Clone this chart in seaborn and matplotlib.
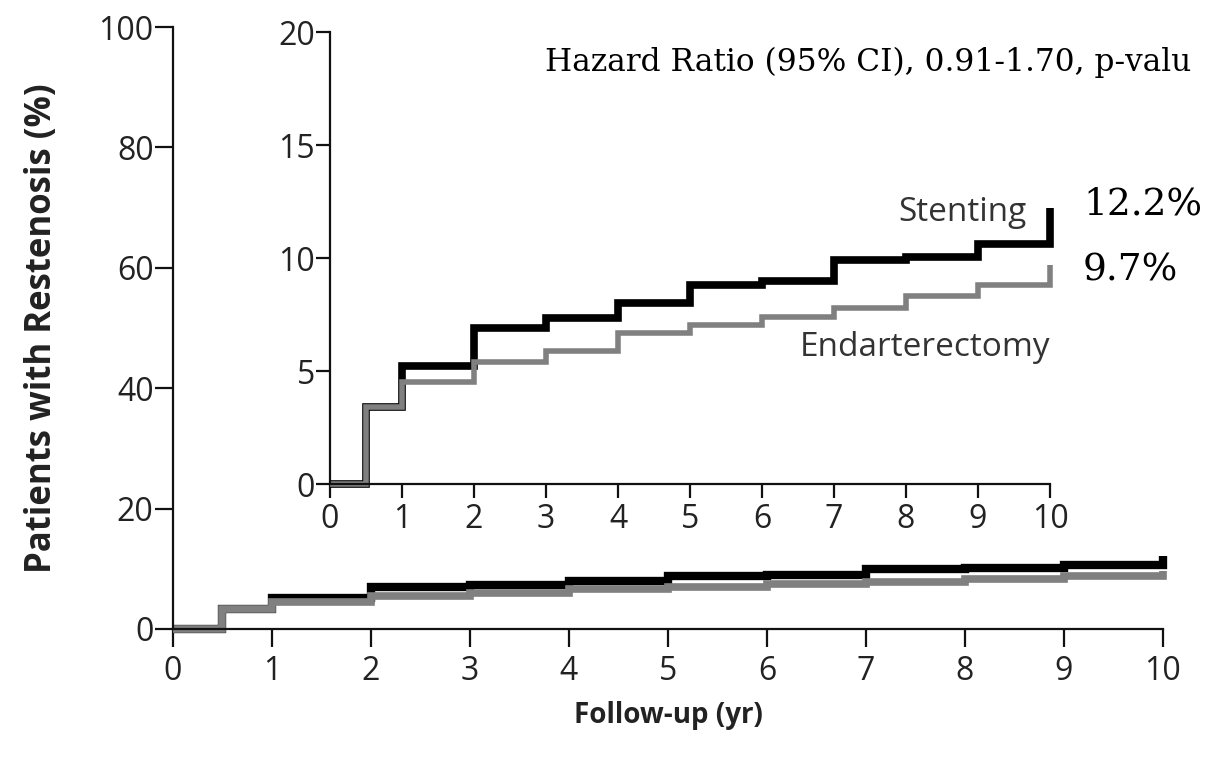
import matplotlib
matplotlib.use("Agg")
import matplotlib.pyplot as plt
import seaborn as sns
import pandas as pd

# ---- data ----
years = [0, 0.5, 1, 2, 3, 4, 5, 6, 7, 8, 9, 10]
stenting = [0, 3.4, 5.2, 6.9, 7.35, 8.0, 8.8, 9.0, 9.9, 10.05, 10.6, 12.2]
endarterectomy = [0, 3.4, 4.5, 5.4, 5.9, 6.7, 7.05, 7.4, 7.8, 8.3, 8.8, 9.7]
x_ticks = [0, 1, 2, 3, 4, 5, 6, 7, 8, 9, 10]
main_y_ticks = [0, 20, 40, 60, 80, 100]
inset_y_ticks = [0, 5, 10, 15, 20]
final_labels = ["12.2%", "9.7%"]
hr_text = "Hazard Ratio (95% CI), 0.91-1.70, p-valu"

df = pd.DataFrame({"year": years, "Stenting": stenting, "Endarterectomy": endarterectomy})

sns.set_theme(style="ticks")
plt.rcParams["font.family"] = ["Open Sans", "DejaVu Sans"]

fig = plt.figure(figsize=(12.08, 7.59), dpi=100)
ax = fig.add_axes([0.1432, 0.1713, 0.8195, 0.7931])
axi = fig.add_axes([0.2732, 0.3623, 0.5960, 0.5955])

GRAY = "#808080"
TXT = "#222222"

def style(a, yticks, ymax, ylen, size):
    for s in ["top", "right"]:
        a.spines[s].set_visible(False)
    for s in ["left", "bottom"]:
        a.spines[s].set_linewidth(1.6)
        a.spines[s].set_color("#111111")
    a.set_xlim(0, 10)
    a.set_ylim(0, ymax)
    a.set_xticks(x_ticks)
    a.set_yticks(yticks)
    a.tick_params(axis="x", direction="out", length=ylen, width=1.6, pad=4,
                  labelsize=size, colors="#111111", labelcolor=TXT)
    a.tick_params(axis="y", direction="out", length=ylen, width=1.6, pad=1,
                  labelsize=size, colors="#111111", labelcolor=TXT)
    a.set_xlabel("")
    a.set_ylabel("")
    a.patch.set_alpha(0)

line_kw = dict(drawstyle="steps-post", estimator=None, clip_on=False,
               solid_joinstyle="miter", solid_capstyle="butt")

# main plot
sns.lineplot(data=df, x="year", y="Stenting", color="black", lw=6, ax=ax, **line_kw)
sns.lineplot(data=df, x="year", y="Endarterectomy", color=GRAY, lw=5.5, ax=ax, **line_kw)
style(ax, main_y_ticks, 100, 13, 23)
ax.tick_params(axis="x", pad=6)
ax.set_xlabel("Follow-up (yr)", fontsize=20, fontweight="bold", labelpad=9, color=TXT)
ax.set_ylabel("Patients with Restenosis (%)", fontsize=25, fontweight="bold", labelpad=28,
              color=TXT)

# inset
sns.lineplot(data=df, x="year", y="Stenting", color="black", lw=5.5, ax=axi, **line_kw)
sns.lineplot(data=df, x="year", y="Endarterectomy", color=GRAY, lw=4, ax=axi, **line_kw)
style(axi, inset_y_ticks, 20, 10, 23)
axi.text(9.68, 12.0, "Stenting", ha="right", va="center", fontsize=24, color="#333333")
axi.text(10.0, 6.06, "Endarterectomy", ha="right", va="center", fontsize=24, color="#333333")

# annotations
fig.text(0.8965, 0.730, final_labels[0], ha="left", va="center", fontsize=27,
         family="DejaVu Serif", color="black")
fig.text(0.8965, 0.643, final_labels[1], ha="left", va="center", fontsize=27,
         family="DejaVu Serif", color="black")
fig.text(0.451, 0.918, hr_text, ha="left", va="center", fontsize=22.5,
         family="DejaVu Serif", color="black")

fig.savefig("out.png", dpi=100)
